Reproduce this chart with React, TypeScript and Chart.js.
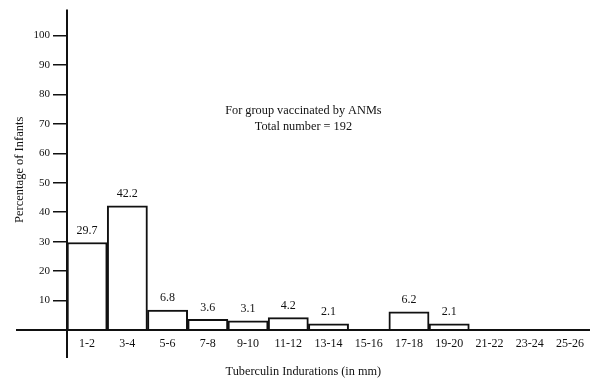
import React, { useEffect, useRef } from "react";
import { Chart, registerables } from "chart.js";

Chart.register(...registerables);

const categories = ["1-2", "3-4", "5-6", "7-8", "9-10", "11-12", "13-14", "15-16", "17-18", "19-20", "21-22", "23-24", "25-26"];
const percentages = [29.7, 42.2, 6.8, 3.6, 3.1, 4.2, 2.1, 0, 6.2, 2.1, 0, 0, 0];
const yTickValues = [10, 20, 30, 40, 50, 60, 70, 80, 90, 100];
const noteLines = ["For group vaccinated by ANMs", "Total number = 192"];
const xTitle = "Tuberculin Indurations (in mm)";
const yTitle = "Percentage of Infants";

const FONT = "'Liberation Serif', 'DejaVu Serif', serif";
const INK = "#111";

const decorPlugin = {
  id: "decor",
  afterDatasetsDraw(chart: any) {
    const { ctx, chartArea } = chart;
    const yScale = chart.scales.y;
    ctx.save();
    // axes lines
    ctx.strokeStyle = INK;
    ctx.lineWidth = 2;
    const zeroY = yScale.getPixelForValue(0);
    ctx.beginPath();
    ctx.moveTo(16, zeroY);
    ctx.lineTo(chartArea.right, zeroY);
    ctx.stroke();
    ctx.beginPath();
    ctx.moveTo(chartArea.left, chartArea.top);
    ctx.lineTo(chartArea.left, zeroY + 28);
    ctx.stroke();

    // value labels
    ctx.fillStyle = INK;
    ctx.font = `12px ${FONT}`;
    ctx.textAlign = "center";
    ctx.textBaseline = "bottom";
    const meta = chart.getDatasetMeta(0);
    meta.data.forEach((bar: any, i: number) => {
      const v = percentages[i];
      if (v > 0) ctx.fillText(v.toFixed(1), bar.x, bar.y - 6);
    });

    // note
    ctx.font = `12.3px ${FONT}`;
    ctx.textBaseline = "middle";
    const noteX = chartArea.left + 0.452 * (chartArea.right - chartArea.left);
    ctx.fillText(noteLines[0], noteX, yScale.getPixelForValue(74.3));
    ctx.fillText(noteLines[1], noteX, yScale.getPixelForValue(69.0));

    // x title
    ctx.font = `12.3px ${FONT}`;
    ctx.fillText(xTitle, noteX, 372);
    ctx.restore();
  },
};

export default function App() {
  const ref = useRef<HTMLCanvasElement | null>(null);
  useEffect(() => {
    document.body.style.margin = "0";
    if (!ref.current) return;
    const chart = new Chart(ref.current, {
      type: "bar",
      data: {
        labels: categories,
        datasets: [
          {
            data: percentages,
            backgroundColor: "#ffffff",
            borderColor: INK,
            borderWidth: 2,
            barPercentage: 1,
            categoryPercentage: 1,
          },
        ],
      },
      options: {
        animation: false,
        responsive: true,
        maintainAspectRatio: false,
        devicePixelRatio: 1,
        layout: { padding: { top: 8, right: 1, left: 0, bottom: 0 } },
        plugins: {
          legend: { display: false },
          tooltip: { enabled: false },
        },
        scales: {
          x: {
            grid: { display: false, drawTicks: false },
            border: { display: false },
            ticks: {
              color: INK,
              font: { family: FONT, size: 12 },
              padding: 7,
              maxRotation: 0,
              autoSkip: false,
            },
            afterFit: (s: any) => {
              s.height = 55;
            },
          },
          y: {
            min: 0,
            max: 108.8,
            afterBuildTicks: (s: any) => {
              s.ticks = yTickValues.map((v) => ({ value: v }));
            },
            grid: {
              drawOnChartArea: false,
              drawTicks: true,
              tickLength: 14,
              color: INK,
              lineWidth: 1.5,
            },
            border: { display: false },
            ticks: {
              color: INK,
              font: { family: FONT, size: 11 },
              padding: 3,
            },
            title: {
              display: true,
              text: yTitle,
              color: INK,
              font: { family: FONT, size: 12.5 },
              padding: { top: 12, bottom: 0 },
            },
            afterFit: (s: any) => {
              s.width = 67;
            },
          },
        },
      },
      plugins: [decorPlugin],
    });
    return () => chart.destroy();
  }, []);
  return (
    <div style={{ width: 591, height: 385, position: "relative", background: "#fff" }}>
      <canvas ref={ref} />
    </div>
  );
}
